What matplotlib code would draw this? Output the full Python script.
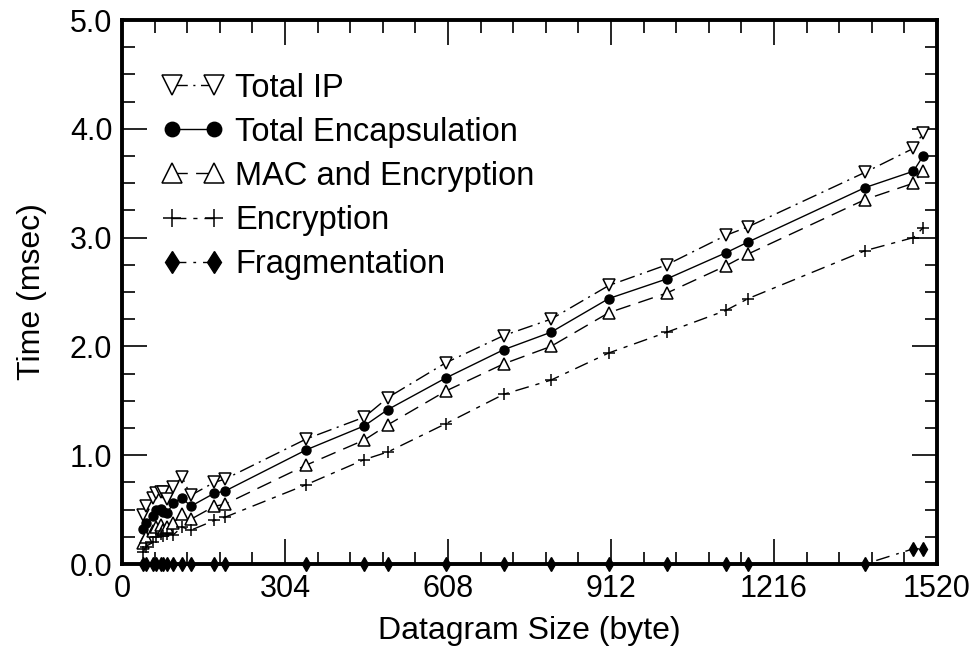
import matplotlib
matplotlib.use("Agg")
import matplotlib.pyplot as plt
from matplotlib.ticker import MultipleLocator, FormatStrFormatter

plt.rcParams['font.family'] = ['Liberation Sans', 'DejaVu Sans']

# datagram sizes (byte)
sizes = [40, 44, 58, 64, 72, 76, 84, 96, 112, 128, 172, 192, 344, 452, 496,
         604, 712, 800, 908, 1016, 1126, 1168, 1386, 1476, 1494]

# times (msec)
total_ip = [0.45, 0.53, 0.61, 0.65, 0.66, 0.66, 0.60, 0.71, 0.80, 0.63, 0.75, 0.78,
            1.15, 1.35, 1.53, 1.85, 2.10, 2.25, 2.56, 2.75, 3.02, 3.10, 3.60, 3.82, 3.96]
total_encap = [0.32, 0.38, 0.44, 0.50, 0.51, 0.48, 0.47, 0.56, 0.61, 0.53, 0.65, 0.67,
               1.05, 1.27, 1.42, 1.71, 1.97, 2.13, 2.44, 2.62, 2.86, 2.96, 3.46, 3.61, 3.75]
mac_enc = [0.19, 0.25, 0.30, 0.34, 0.36, 0.31, 0.34, 0.38, 0.46, 0.41, 0.53, 0.55,
           0.91, 1.14, 1.28, 1.59, 1.84, 2.00, 2.31, 2.49, 2.74, 2.85, 3.35, 3.50, 3.61]
encryption = [0.11, 0.16, 0.20, 0.25, 0.28, 0.26, 0.28, 0.27, 0.34, 0.31, 0.40, 0.43,
              0.73, 0.96, 1.03, 1.29, 1.56, 1.69, 1.94, 2.13, 2.33, 2.44, 2.88, 3.00, 3.09]
fragmentation = [0.0] * 23 + [0.14, 0.14]

labels = ['Total IP', 'Total Encapsulation', 'MAC and Encryption', 'Encryption', 'Fragmentation']

fig = plt.figure(figsize=(9.77, 6.58), dpi=100)
ax = fig.add_axes([122 / 977, 1 - 564 / 658, 815 / 977, 544 / 658])

ax.plot(sizes, total_ip, color='black', lw=1, linestyle=(0, (11, 4, 1.5, 4)),
        marker='v', ms=9, mfc='white', mec='black', mew=1.1, label=labels[0])
ax.plot(sizes, total_encap, color='black', lw=1, linestyle='-',
        marker='o', ms=6.5, mfc='black', mec='black', label=labels[1])
ax.plot(sizes, mac_enc, color='black', lw=1, linestyle=(0, (11, 6)),
        marker='^', ms=9, mfc='white', mec='black', mew=1.1, label=labels[2])
ax.plot(sizes, encryption, color='black', lw=1, linestyle=(0, (10, 5, 3, 5)),
        marker='+', ms=8, mec='black', mew=1.1, label=labels[3])
ax.plot(sizes, fragmentation, color='black', lw=1, linestyle=(0, (10, 5, 2, 5)),
        marker='d', ms=7, mfc='black', mec='black', label=labels[4],
        clip_on=False, zorder=5)

ax.set_xlim(0, 1520)
ax.set_ylim(0, 5.0)
ax.xaxis.set_major_locator(MultipleLocator(304))
ax.xaxis.set_minor_locator(MultipleLocator(60.8))
ax.yaxis.set_major_locator(MultipleLocator(1.0))
ax.yaxis.set_minor_locator(MultipleLocator(0.25))
ax.yaxis.set_major_formatter(FormatStrFormatter('%.1f'))

ax.tick_params(which='both', direction='in', top=True, right=True, width=1.2,
               labelsize=22, colors='black')
ax.tick_params(which='major', length=18, pad=7)
ax.tick_params(which='minor', length=9)
for s in ax.spines.values():
    s.set_linewidth(2.8)

ax.set_xlabel('Datagram Size (byte)', fontsize=23, labelpad=9)
ax.set_ylabel('Time (msec)', fontsize=23, labelpad=16)

ax.legend(loc='upper left', bbox_to_anchor=(0.049, 0.903), frameon=False,
          fontsize=23.5, numpoints=2, handlelength=1.9, handletextpad=0.35,
          labelspacing=0.4, borderpad=0, borderaxespad=0, markerscale=1.6)

fig.savefig('out.png', dpi=100)
